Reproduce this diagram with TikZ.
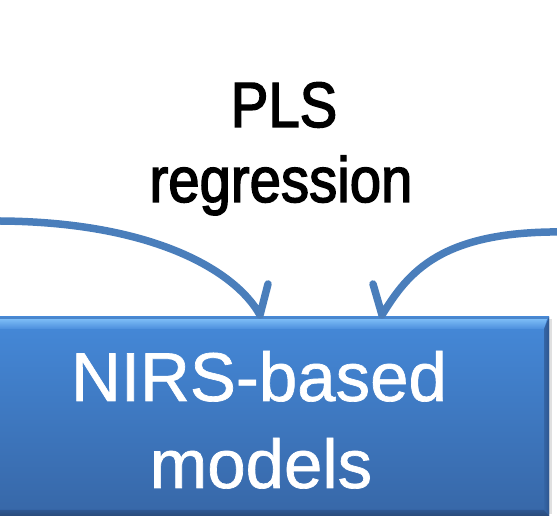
\documentclass[tikz,border=0pt]{standalone}
\usepackage{fontspec}
\newfontfamily\plsfont[FakeStretch=0.88,FakeBold=2.2]{Liberation Sans}
\newfontfamily\boxfont[FakeBold=1]{Liberation Sans}
\definecolor{arrblue}{HTML}{4A7EBB}
\definecolor{boxtop}{HTML}{4589D9}
\definecolor{boxbot}{HTML}{3767A7}
\definecolor{bevlight}{HTML}{7CBCF6}
\definecolor{bevmid}{HTML}{4B8EDD}
\definecolor{bevedge}{HTML}{4A86CC}
\definecolor{bevdark}{HTML}{2E5690}
\definecolor{bevdarker}{HTML}{294A7A}
\definecolor{bevright}{HTML}{305C98}
\tikzset{
  x=1pt, y=1pt,
  arr/.style={draw=arrblue, line width=7.5pt, line cap=round, line join=round},
  lbl/.style={font=\plsfont\fontsize{64}{75}\selectfont, text=black, inner sep=0pt, anchor=base},
  boxtxt/.style={font=\boxfont\fontsize{69}{87}\selectfont, text=white, inner sep=0pt, anchor=base},
}
\begin{document}
\begin{tikzpicture}
\useasboundingbox (0,0) rectangle (557,518);
\begin{scope}
\clip (0,0) rectangle (557,518);
% shadow
\fill[black!12] (549,4) rectangle (552,199);
% box body
\shade[top color=boxtop, bottom color=boxbot] (-40,2) rectangle (549,201);
\node[inner sep=0pt, minimum width=589pt, minimum height=199pt] (box) at (254.5,101.5) {};
% top bevel
\shade[top color=bevlight, bottom color=bevmid] (-40,199) -- (547,199) -- (544,189) -- (-40,189) -- cycle;
\fill[bevedge] (-40,199) rectangle (549,201);
% right bevel
\shade[left color=bevright!80!boxtop, right color=bevdark] (549,201) -- (549,2) -- (544,8) -- (544,189) -- cycle;
% bottom bevel
\shade[top color=bevdark, bottom color=bevdarker] (-40,8) -- (544,8) -- (549,2) -- (-40,2) -- cycle;
% texts in box
\node[boxtxt] (nirs) at (259,117) {NIRS-based};
\node[boxtxt] (models) at (261,30) {models};
% label
\node[lbl] (pls) at (284,391) {PLS};
\node[lbl] (reg) at (281,316) {regression};
% arrows
\coordinate (lstart) at (-10,297);
\coordinate (ltip) at (260,203);
\coordinate (larmB) at (268,234);
\coordinate (rstart) at (567,286);
\coordinate (rtip) at (382,203);
\coordinate (rarmB) at (373,234);
\draw[arr] (lstart) .. controls (150,298) and (235,248) .. (ltip) -- (larmB);
\draw[arr] (rstart) .. controls (440,288) and (408,245) .. (rtip) -- (rarmB);
\end{scope}
\end{tikzpicture}
\end{document}
